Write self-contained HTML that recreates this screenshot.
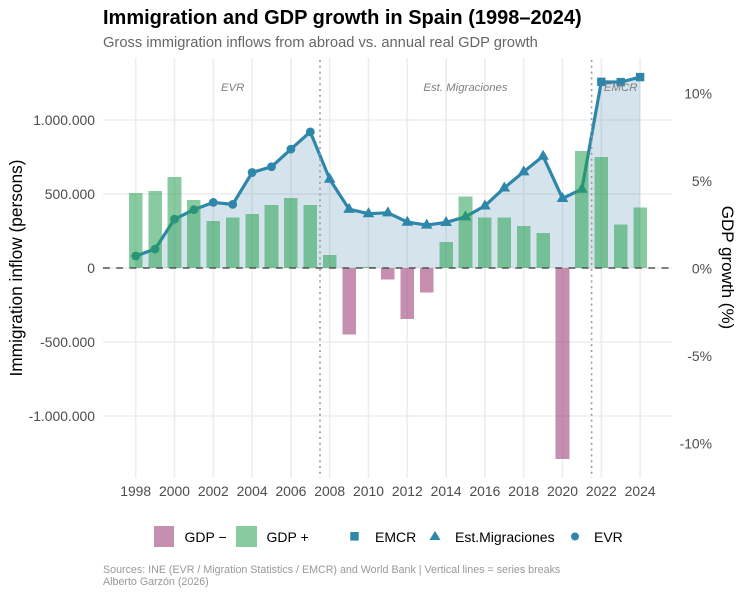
<!DOCTYPE html>
<html lang="en">
<head>
<meta charset="utf-8">
<title>Immigration and GDP growth in Spain (1998–2024)</title>
<style>
html,body{margin:0;padding:0;background:#fff}
svg{display:block}
text{font-family:"Liberation Sans",Arial,sans-serif}
</style>
</head>
<body>
<svg id="chart" width="742" height="595" viewBox="0 0 742 595" xmlns="http://www.w3.org/2000/svg">
<rect x="0" y="0" width="742" height="595" fill="#fff"/>
<text x="103" y="24" font-size="20" font-weight="700" fill="#000">Immigration and GDP growth in Spain (1998–2024)</text>
<text x="103" y="47" font-size="14.7" fill="#666">Gross immigration inflows from abroad vs. annual real GDP growth</text>
<g id="grid"></g>
<g id="series"></g>
<g id="bars"></g>
<g id="overlays"></g>
<g id="axes"></g>
<text transform="translate(22,268) rotate(-90)" text-anchor="middle" font-size="17.3" fill="#000">Immigration inflow (persons)</text>
<text transform="translate(722,267.5) rotate(90)" text-anchor="middle" font-size="17" fill="#000">GDP growth (%)</text>
<g font-size="14" fill="#000">
<rect x="154" y="526" width="20" height="21" fill="#C78FAF"/>
<text x="184.5" y="542">GDP −</text>
<rect x="236" y="526" width="21" height="21" fill="#88CBA0"/>
<text x="266.5" y="542">GDP +</text>
<rect x="350.3" y="532" width="8.4" height="8.6" fill="#2E86AB"/>
<text x="375" y="542">EMCR</text>
<polygon points="435,531 440.5,540 429.5,540" fill="#2E86AB"/>
<text x="455" y="542">Est.Migraciones</text>
<circle cx="575" cy="536.5" r="4" fill="#2E86AB"/>
<text x="594" y="542">EVR</text>
</g>
<text x="103" y="573" font-size="10.7" fill="#999">Sources: INE (EVR / Migration Statistics / EMCR) and World Bank | Vertical lines = series breaks</text>
<text x="103" y="585" font-size="10.7" fill="#999">Alberto Garzón (2026)</text>
</svg>
<script>
const years = [1998,1999,2000,2001,2002,2003,2004,2005,2006,2007,2008,2009,2010,2011,2012,2013,2014,2015,2016,2017,2018,2019,2020,2021,2022,2023,2024];
const immigration = [81000,128000,330000,394000,443000,430000,645000,684000,803000,920000,600000,397000,367000,373000,310000,290000,308000,346000,420000,541000,650000,756000,470000,533000,1258000,1256000,1290000];
const sources = ["EVR","EVR","EVR","EVR","EVR","EVR","EVR","EVR","EVR","EVR","Est","Est","Est","Est","Est","Est","Est","Est","Est","Est","Est","Est","Est","Est","EMCR","EMCR","EMCR"];
const gdpGrowth = [4.3,4.4,5.2,3.9,2.7,2.9,3.1,3.6,4.0,3.6,0.75,-3.8,0.05,-0.65,-2.9,-1.4,1.5,4.1,2.9,2.9,2.4,2.0,-10.9,6.7,6.35,2.5,3.45];
const xTicks = [1998,2000,2002,2004,2006,2008,2010,2012,2014,2016,2018,2020,2022,2024];
const yTicks = [-1000000,-500000,0,500000,1000000];
const yTickLabels = ["-1.000.000","-500.000","0","500.000","1.000.000"];
const gdpTicks = [-10,-5,0,5,10];
const gdpTickLabels = ["-10%","-5%","0%","5%","10%"];
const seriesBreaks = [2007.5,2021.5];
const seriesNotes = ["EVR","Est. Migraciones","EMCR"];
const seriesNoteYears = [2003,2015,2023];

const NS = "http://www.w3.org/2000/svg";
const xScale = y => 135.7 + (y - 1998) * 19.4;
const yScale = v => 268 - v * 0.000148;
const gdpScale = g => 268 - g * 17.5;
const PANEL = {left:103, right:672, top:58, bottom:478};
const LINE = "#2E86AB";

function make(tag, parent, attrs, text) {
  const el = document.createElementNS(NS, tag);
  for (const k in attrs) el.setAttribute(k, attrs[k]);
  if (text !== undefined) el.textContent = text;
  parent.appendChild(el);
  return el;
}

const grid = document.getElementById("grid");
xTicks.forEach(t => {
  const el = make("line", grid, {x1:xScale(t), x2:xScale(t), y1:PANEL.top, y2:PANEL.bottom, stroke:"#EDEDED", "stroke-width":1.6});
  
  
});
yTicks.forEach(t => {
  const el = make("line", grid, {x1:PANEL.left, x2:PANEL.right, y1:yScale(t), y2:yScale(t), stroke:"#EDEDED", "stroke-width":1.6});
  
  
});

const series = document.getElementById("series");
const linePts = years.map((y, i) => xScale(y) + "," + yScale(immigration[i]));
const area = make("polygon", series, {
  points: xScale(years[0]) + "," + yScale(0) + " " + linePts.join(" ") + " " + xScale(years[years.length - 1]) + "," + yScale(0),
  fill: "#2E76A0", "fill-opacity": 0.2
});


const line = make("polyline", series, {points: linePts.join(" "), fill:"none", stroke:LINE, "stroke-width":3.2, "stroke-linejoin":"round"});



years.forEach((y, i) => {
  const cx = xScale(y), cy = yScale(immigration[i]);
  let el;
  if (sources[i] === "EVR") {
    el = make("circle", series, {cx:cx, cy:cy, r:4.4, fill:LINE});
  } else if (sources[i] === "Est") {
    el = make("polygon", series, {points:[cx, cy - 6.4, cx + 5.8, cy + 3.6, cx - 5.8, cy + 3.6].join(","), fill:LINE});
  } else {
    el = make("rect", series, {x:cx - 4.2, y:cy - 4.2, width:8.4, height:8.4, fill:LINE});
  }
  
  
});

const bars = document.getElementById("bars");
years.forEach((y, i) => {
  const g = gdpGrowth[i];
  const top = gdpScale(Math.max(g, 0)), bottom = gdpScale(Math.min(g, 0));
  const el = make("rect", bars, {
    x: xScale(y) - 6.8, width: 13.6, y: top, height: bottom - top,
    fill: g >= 0 ? "#27A052" : "#99336E", "fill-opacity": 0.55, "shape-rendering": "crispEdges"
  });
  
  
});

const overlays = document.getElementById("overlays");
const zero = make("line", overlays, {x1:PANEL.left, x2:PANEL.right, y1:yScale(0), y2:yScale(0), stroke:"#555", "stroke-width":1.6, "stroke-dasharray":"6.8 6.5"});


seriesBreaks.forEach(b => {
  const el = make("line", overlays, {x1:xScale(b), x2:xScale(b), y1:PANEL.top + 2, y2:PANEL.bottom, stroke:"#999", "stroke-width":1.6, "stroke-dasharray":"2 3.8"});
  
  
});
seriesNotes.forEach((n, i) => {
  const el = make("text", overlays, {x:xScale(seriesNoteYears[i]), y:91, "text-anchor":"middle", "font-size":11.4, "font-style":"italic", fill:"#808080"}, n);
  
  
});

const axes = document.getElementById("axes");
xTicks.forEach(t => {
  const el = make("text", axes, {x:xScale(t), y:496, "text-anchor":"middle", "font-size":13.9, fill:"#4D4D4D"}, t);
  
  
});
yTicks.forEach((t, i) => {
  const el = make("text", axes, {x:95, y:yScale(t) + 5, "text-anchor":"end", "font-size":13.9, fill:"#4D4D4D"}, yTickLabels[i]);
  
  
});
gdpTicks.forEach((t, i) => {
  const el = make("text", axes, {x:712, y:gdpScale(t) + 5.5, "text-anchor":"end", "font-size":13.9, fill:"#4D4D4D"}, gdpTickLabels[i]);
  
  
});
</script>
</body>
</html>
